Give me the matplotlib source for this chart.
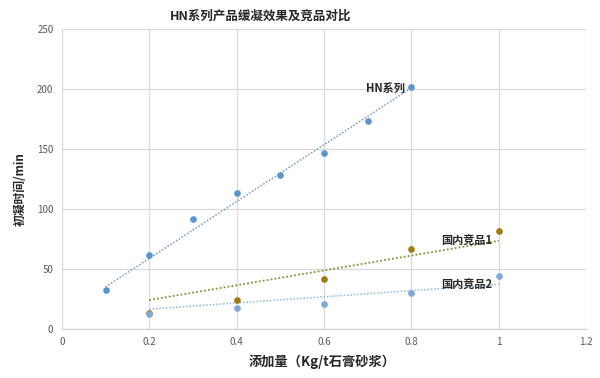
import matplotlib
matplotlib.use("Agg")
import matplotlib.pyplot as plt

plt.rcParams['font.family'] = ['Noto Sans CJK SC', 'DejaVu Sans']

# data
hn_x = [0.1, 0.2, 0.3, 0.4, 0.5, 0.6, 0.7, 0.8]
hn_y = [32.5, 61.5, 91.5, 113.5, 128, 147, 173, 202]
c1_x = [0.2, 0.4, 0.6, 0.8, 1.0]
c1_y = [13, 24, 42, 66.5, 81.5]
c2_x = [0.2, 0.4, 0.6, 0.8, 1.0]
c2_y = [12, 17.5, 21, 29.5, 44.5]

# dotted trend lines (end values)
hn_trend_x, hn_trend_y = [0.1, 0.8], [35, 201]
c1_trend_x, c1_trend_y = [0.2, 1.0], [24, 73.5]
c2_trend_x, c2_trend_y = [0.2, 1.0], [16.5, 37]

xticks = [0, 0.2, 0.4, 0.6, 0.8, 1.0, 1.2]
xticklabels = ["0", "0.2", "0.4", "0.6", "0.8", "1", "1.2"]
yticks = [0, 50, 100, 150, 200, 250]

fig = plt.figure(figsize=(6, 3.78), dpi=100)
ax = fig.add_axes([0.103, 0.13, 0.874, 0.793])

ax.plot(hn_trend_x, hn_trend_y, ls=(0, (1, 1.2)), lw=1.1, color="#6f9cc4", zorder=2)
ax.plot(c1_trend_x, c1_trend_y, ls=(0, (1, 1.2)), lw=1.3, color="#8f8a3a", zorder=2)
ax.plot(c2_trend_x, c2_trend_y, ls=(0, (1, 1.2)), lw=1.1, color="#8fb8dc", zorder=2)

ax.plot(c1_x, c1_y, "o", ms=4.8, color="#a37a12", mec="none", zorder=3)
ax.plot(c2_x, c2_y, "o", ms=4.8, color="#7fa9d6", mec="none", zorder=4)
ax.plot(hn_x, hn_y, "o", ms=4.8, color="#5b95cf", mec="none", zorder=4)

ax.text(0.785, 200.5, "HN系列", ha="right", va="center", fontsize=8, fontweight="bold", color="#262626")
ax.text(0.985, 73, "国内竞品1", ha="right", va="center", fontsize=8, fontweight="bold", color="#262626")
ax.text(0.985, 36, "国内竞品2", ha="right", va="center", fontsize=8, fontweight="bold", color="#262626")

ax.set_xlim(0, 1.2)
ax.set_ylim(0, 250)
ax.set_xticks(xticks)
ax.set_xticklabels(xticklabels)
ax.set_yticks(yticks)
ax.grid(True, color="#d9d9d9", lw=0.9)
ax.set_axisbelow(True)
for s in ax.spines.values():
    s.set_visible(False)
ax.spines["bottom"].set_visible(True)
ax.spines["bottom"].set_color("#d0d0d0")
ax.tick_params(length=0, labelsize=7, colors="#595959", pad=6)

fig.text(0.435, 0.957, "HN系列产品缓凝效果及竞品对比", ha="center", va="center",
         fontsize=9, fontweight="bold", color="#262626")
fig.text(0.033, 0.5, "初凝时间/min", ha="center", va="center", rotation=90,
         fontsize=8.5, fontweight="bold", color="#262626")
fig.text(0.537, 0.042, "添加量（Kg/t石膏砂浆）", ha="center", va="center",
         fontsize=9.5, fontweight="bold", color="#262626")

fig.savefig("out.png", dpi=100)
